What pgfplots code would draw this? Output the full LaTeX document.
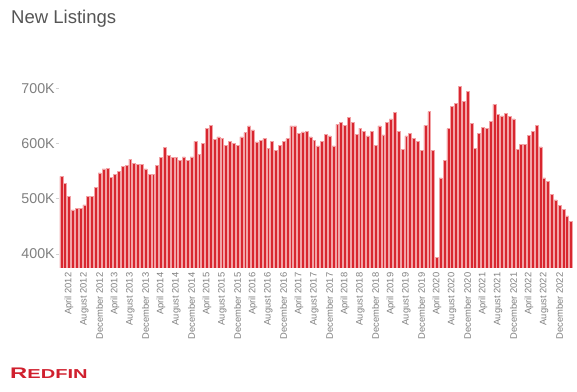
\documentclass[border=0pt]{standalone}
\usepackage{pgfplots}
\pgfplotsset{compat=1.18}
\usepackage{pgfplotstable}
\usepackage{fontspec}
\setmainfont{Liberation Sans}
\definecolor{barfill}{HTML}{D8262F}
\definecolor{baredge}{HTML}{F2A3A6}
\definecolor{titlegray}{HTML}{555555}
\definecolor{labelgray}{HTML}{7F7F7F}
\definecolor{logored}{HTML}{D0202E}
\pgfplotstableread{
x y
0 540.7
1 528
2 504
3 480
4 483
5 482
6 489
7 505
8 505
9 520
10 547
11 554
12 555
13 539
14 544
15 550
16 559
17 561
18 572
19 564
20 562
21 563
22 554
23 544
24 544
25 560
26 575
27 593
28 579
29 575
30 575
31 570
32 576
33 570
34 576
35 604
36 581
37 601
38 627
39 633
40 607
41 612
42 610
43 597
44 604
45 600
46 597
47 612
48 620
49 632
50 625
51 603
52 606
53 609
54 591
55 604
56 588
57 597
58 604
59 609
60 632
61 632
62 619
63 621
64 622
65 612
66 606
67 596
68 604
69 617
70 614
71 596
72 635
73 639
74 633
75 648
76 639
77 617
78 628
79 622
80 614
81 622
82 597
83 632
84 616
85 639
86 645
87 657
88 622
89 590
90 614
91 619
92 609
93 604
94 588
95 633
96 658
97 588
98 394
99 538
100 570
101 627
102 667
103 673
104 704
105 676
106 695
107 637
108 591
109 619
110 630
111 627
112 640
113 671
114 653
115 650
116 655
117 649
118 645
119 590
120 599
121 599
122 615
123 622
124 633
125 594
126 538
127 532
128 508
129 498
130 488
131 481
132 469
133 459
}\listings
\begin{document}
\begin{tikzpicture}
\path[use as bounding box] (0,0) rectangle (577bp,392bp);
\begin{axis}[
  at={(59.4bp,124bp)}, anchor=south west,
  scale only axis, width=513.5bp, height=207.2bp,
  xmin=-0.5, xmax=133.5, ymin=374.6, ymax=750,
  ybar, bar width=2.9bp,
  axis line style={draw=none},
  tick pos=left, tick align=outside,
  major tick length=3bp,
  xtick style={draw=none},
  ytick style={draw=black!18, line width=0.6bp},
  ytick={400,500,600,700},
  yticklabels={400K,500K,600K,700K},
  yticklabel style={font=\fontsize{14.3}{16}\selectfont, text=labelgray, inner sep=1.5bp},
  xtick={2,6,...,130},
  xticklabels={April 2012,August 2012,December 2012,April 2013,August 2013,December 2013,April 2014,August 2014,December 2014,April 2015,August 2015,December 2015,April 2016,August 2016,December 2016,April 2017,August 2017,December 2017,April 2018,August 2018,December 2018,April 2019,August 2019,December 2019,April 2020,August 2020,December 2020,April 2021,August 2021,December 2021,April 2022,August 2022,December 2022},
  xticklabel style={font=\fontsize{9.4}{11}\selectfont, text=labelgray, rotate=90, anchor=east, inner sep=1.5bp},
  /pgf/number format/assume math mode=true,
]
\addplot[fill=barfill, draw=baredge, line width=0.5bp] table[x=x,y=y] {\listings};
\end{axis}
\node[anchor=base west, text=titlegray, font=\fontsize{18.6}{20}\selectfont, inner sep=0pt] at (11bp,368bp) {New Listings};
\node[anchor=base west, text=logored, font=\bfseries\fontsize{15.4}{16}\selectfont, inner sep=0pt] at (10bp,13.7bp) {\scalebox{1.55}[1]{R\fontsize{13}{14}\selectfont EDFIN}};
\end{tikzpicture}
\end{document}
